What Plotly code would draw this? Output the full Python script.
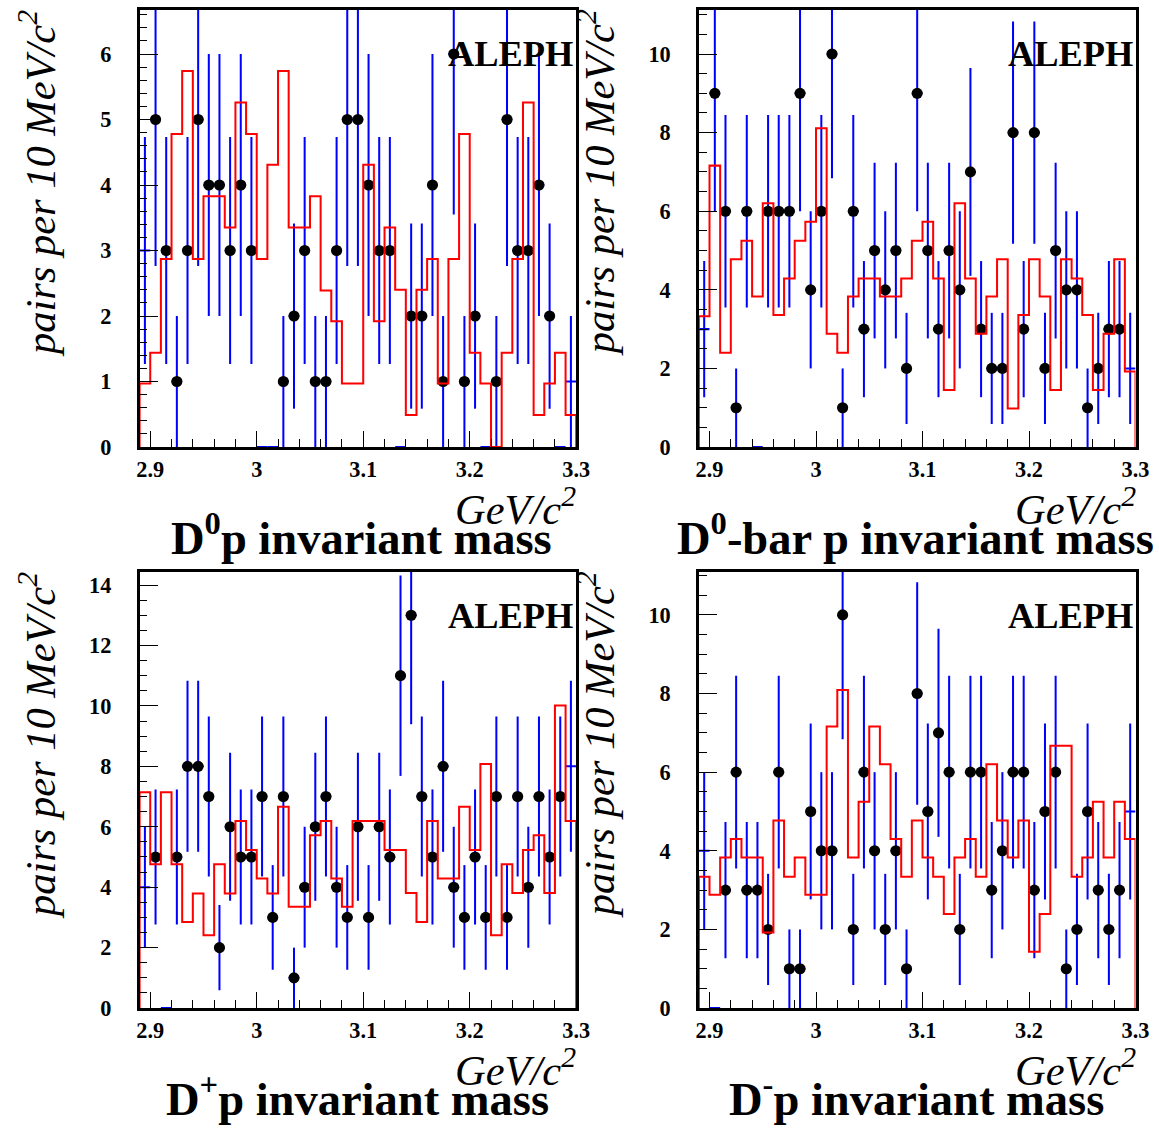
import numpy as np
import plotly.graph_objects as go

# ---------------- data ----------------
mass_lo, bin_w, n_bins = 2.89, 0.01, 41

d0p_counts = [3, 5, 3, 1, 3, 5, 4, 4, 3, 4, 3, 0, 0, 1, 2, 3, 1, 1, 3, 5, 5,
              4, 3, 3, 0, 2, 2, 4, 1, 6, 1, 2, 0, 1, 5, 3, 3, 4, 2, 0, 1]
d0p_mc = [0.97, 1.44, 2.87, 4.78, 5.74, 2.87, 3.83, 3.83, 3.35, 5.26, 4.78,
          2.87, 4.31, 5.74, 3.35, 3.35, 3.83, 2.39, 1.92, 0.97, 0.97,
          4.31, 1.92, 3.35, 2.40, 0.49, 2.40, 2.87, 0.97, 2.87, 4.78,
          1.44, 0.97, 0.0, 1.44, 2.87, 5.26, 0.49, 0.97, 1.44, 0.49]

d0bar_counts = [3, 9, 6, 1, 6, 0, 6, 6, 6, 9, 4, 6, 10, 1, 6, 3, 5, 4, 5, 2, 9,
                5, 3, 5, 4, 7, 3, 2, 2, 8, 3, 8, 2, 5, 4, 4, 1, 2, 3, 3, 2]
d0bar_mc = [3.33, 7.16, 2.40, 4.78, 5.25, 3.83, 6.20, 3.36, 4.29, 5.25, 5.73,
            8.11, 2.88, 2.40, 3.83, 4.29, 4.29, 3.83, 3.83, 4.29, 5.25,
            5.73, 4.29, 1.45, 6.20, 4.29, 2.88, 3.83, 4.78, 0.98, 3.36,
            4.78, 3.83, 1.45, 4.78, 4.29, 3.36, 1.45, 2.88, 4.78, 1.92]

dplus_counts = [4, 5, 0, 5, 8, 8, 7, 2, 6, 5, 5, 7, 3, 7, 1, 4, 6, 7, 4, 3, 6,
                3, 6, 5, 11, 13, 7, 5, 8, 4, 3, 5, 3, 7, 3, 7, 4, 7, 5, 7, 8]
dplus_mc = [7.14, 4.76, 7.14, 4.76, 2.85, 3.79, 2.41, 4.76, 3.79, 6.19, 5.23,
            4.29, 3.79, 6.66, 3.35, 3.35, 5.72, 6.19, 4.29, 3.35, 6.19,
            6.19, 6.19, 5.23, 5.23, 3.81, 2.85, 6.19, 4.29, 4.29, 6.66,
            5.23, 8.08, 2.41, 4.76, 3.81, 5.23, 5.72, 3.81, 10.01, 6.19]

dminus_counts = [4, 0, 3, 6, 3, 3, 2, 6, 1, 1, 5, 4, 4, 10, 2, 6, 4, 2, 4, 1, 8,
                 5, 7, 6, 2, 6, 6, 3, 4, 6, 6, 3, 5, 6, 1, 2, 5, 3, 2, 3, 5]
dminus_mc = [3.34, 2.88, 3.83, 4.30, 3.83, 3.83, 1.92, 4.77, 3.34, 3.83, 2.88,
             2.88, 7.16, 8.09, 3.83, 5.25, 7.16, 6.20, 4.30, 3.34, 4.77,
             3.83, 3.34, 2.39, 3.83, 4.30, 3.34, 6.20, 4.77, 3.83, 4.77,
             1.43, 2.39, 6.67, 6.67, 3.34, 3.83, 5.25, 3.83, 5.25, 4.30]

titles = ["D<sup>0</sup>p invariant mass", "D<sup>0</sup>-bar p invariant mass",
          "D<sup>+</sup>p invariant mass", "D<sup>-</sup>p invariant mass"]
y_max = [6.672, 11.12, 14.43, 11.09]
y_dtick = [1, 2, 2, 2]
y_minor = [0.2, 0.5, 0.5, 0.5]

panels = [(d0p_counts, d0p_mc), (d0bar_counts, d0bar_mc),
          (dplus_counts, dplus_mc), (dminus_counts, dminus_mc)]

# ---------------- geometry (reference pixels, scaled by S) ----------------
S = 1.0116
W, H = round(1159 * S), round(1128 * S)
frames = [(137, 575, 10, 447), (698, 1136, 10, 447),
          (137, 575, 572, 1008), (698, 1136, 572, 1008)]
title_cx = [360, 915, 356, 916]
title_dy = [87, 87, 87, 87]


def px(v):
    return v * S


edges = np.round(mass_lo + bin_w * np.arange(n_bins + 1), 4)
centers = edges[:-1] + bin_w / 2

SERIF = "Liberation Serif"
fig = go.Figure()
layout = dict(width=W, height=H, margin=dict(l=0, r=0, t=0, b=0),
              paper_bgcolor="white", plot_bgcolor="white", showlegend=False)
annotations = []

for k, ((counts, mc), (x0, x1, y0, y1)) in enumerate(zip(panels, frames)):
    sfx = "" if k == 0 else str(k + 1)
    counts = np.array(counts, dtype=float)
    mc = np.array(mc, dtype=float)
    n = len(counts)
    show = [(c > 0 and 0 < i < n - 1) for i, c in enumerate(counts)]

    # error bars (drawn first, below the markers)
    fig.add_trace(go.Scatter(
        x=centers, y=counts, mode="markers", xaxis="x" + sfx, yaxis="y" + sfx,
        marker=dict(color="rgba(0,0,0,0)", size=1),
        error_y=dict(type="data", array=np.sqrt(counts), color="#0000ff",
                     thickness=px(2), width=0),
        error_x=dict(type="constant", value=bin_w / 2, color="#0000ff",
                     thickness=px(2), width=0),
        hoverinfo="skip"))
    # data markers
    fig.add_trace(go.Scatter(
        x=centers[show], y=counts[show], mode="markers",
        xaxis="x" + sfx, yaxis="y" + sfx,
        marker=dict(color="black", size=px(11), line=dict(width=0)),
        hoverinfo="x+y"))
    # simulation histogram
    xs = np.concatenate([[edges[0]], edges, [edges[-1]]])
    ys = np.concatenate([[0], mc, [mc[-1]], [0]])
    fig.add_trace(go.Scatter(
        x=xs, y=ys, mode="lines",
        line=dict(color="#ff0000", width=px(2), shape="hv"),
        xaxis="x" + sfx, yaxis="y" + sfx, hoverinfo="skip"))

    xd = [px(x0) / W, px(x1) / W]
    yd = [1 - px(y1) / H, 1 - px(y0) / H]
    layout["xaxis" + sfx] = dict(
        domain=xd, anchor="y" + sfx, range=[edges[0], edges[-1]],
        showline=True, linecolor="black", linewidth=px(2.5), mirror=True,
        showgrid=False, zeroline=False,
        ticks="inside", ticklen=px(16), tickwidth=1, tickcolor="black",
        tick0=2.9, dtick=0.1, ticklabelstandoff=0,
        minor=dict(ticks="inside", ticklen=px(8), tickwidth=1, tickcolor="black",
                   tick0=2.9, dtick=0.02, showgrid=False),
        tickfont=dict(family=SERIF, size=px(22), color="black", weight="bold"))
    layout["yaxis" + sfx] = dict(
        domain=yd, anchor="x" + sfx, range=[0, y_max[k]],
        showline=True, linecolor="black", linewidth=px(2.5), mirror=True,
        showgrid=False, zeroline=False,
        ticks="inside", ticklen=px(18), tickwidth=1, tickcolor="black",
        tick0=0, dtick=y_dtick[k], ticklabelstandoff=21,
        minor=dict(ticks="inside", ticklen=px(8), tickwidth=1, tickcolor="black",
                   tick0=0, dtick=y_minor[k], showgrid=False),
        tickfont=dict(family=SERIF, size=px(22), color="black", weight="bold"))

    # ALEPH label
    annotations.append(dict(
        text="ALEPH", xref="paper", yref="paper", x=px(x1 - 1) / W,
        y=1 - px(y0 + 44) / H, xanchor="right", yanchor="middle", showarrow=False,
        font=dict(family=SERIF, size=px(36), color="black", weight="bold")))
    # y title
    annotations.append(dict(
        text="pairs per 10 MeV/c<sup>2</sup>", xref="paper", yref="paper",
        x=px(x0 - 103) / W, y=1 - px(y0 + 173) / H,
        xanchor="center", yanchor="middle", textangle=-90, showarrow=False,
        font=dict(family=SERIF, size=px(42), color="black", style="italic")))
    # x title
    annotations.append(dict(
        text="GeV/c<sup>2</sup>", xref="paper", yref="paper",
        x=px(x1 + 2) / W, y=1 - px(y1 + 59) / H, xanchor="right", yanchor="middle",
        showarrow=False,
        font=dict(family=SERIF, size=px(42), color="black", style="italic")))
    # panel title
    annotations.append(dict(
        text=titles[k], xref="paper", yref="paper",
        x=px(title_cx[k]) / W, y=1 - px(y1 + title_dy[k]) / H,
        xanchor="center", yanchor="middle", showarrow=False,
        font=dict(family=SERIF, size=px(46), color="black", weight="bold")))

layout["annotations"] = annotations
fig.update_layout(**layout)
fig.write_html("out.html")
